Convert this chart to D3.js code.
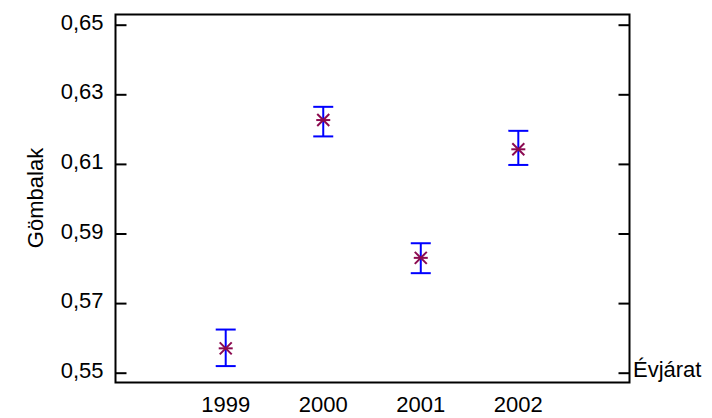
<!DOCTYPE html>
<html lang="hu">
<head>
<meta charset="UTF-8">
<title>Gömbalak</title>
<script src="https://d3js.org/d3.v7.min.js"></script>
<style>
  body { margin: 0; background: #fff; }
  text { font-family: "Liberation Sans", Arial, sans-serif; }
</style>
</head>
<body>
<div id="chart"></div>
<script>
// data
const years = [1999, 2000, 2001, 2002];
const means = [0.5570, 0.6226, 0.5830, 0.6142];
const upper = [0.5624, 0.6264, 0.5872, 0.6195];
const lower = [0.5519, 0.6179, 0.5786, 0.6097];
const yTicks = [0.55, 0.57, 0.59, 0.61, 0.63, 0.65];

const W = 712, H = 418;
const box = {left: 115.5, right: 629.5, top: 14.5, bottom: 382.5};
const fs = 22;

const svg = d3.select("#chart").append("svg")
  .attr("width", W).attr("height", H);

const x = d3.scaleLinear().domain([1997.87, 2003.14]).range([box.left, box.right]);
const y = d3.scaleLinear().domain([0.55, 0.65]).range([372.7, 24.7]);

const fmt = d => d3.format(".2f")(d).replace(".", ",");

// frame
svg.append("rect")
  .attr("x", box.left).attr("y", box.top)
  .attr("width", box.right - box.left).attr("height", box.bottom - box.top)
  .attr("fill", "none").attr("stroke", "#000").attr("stroke-width", 2);

// left axis, ticks pointing in
svg.append("g")
  .attr("transform", `translate(${box.left},0)`)
  .call(d3.axisRight(y).tickValues(yTicks).tickSize(11).tickFormat(""))
  .call(g => g.select(".domain").remove())
  .call(g => g.selectAll("line").attr("stroke-width", 2));

// right axis ticks, pointing in
svg.append("g")
  .attr("transform", `translate(${box.right},0)`)
  .call(d3.axisLeft(y).tickValues(yTicks).tickSize(11).tickFormat(""))
  .call(g => g.select(".domain").remove())
  .call(g => g.selectAll("line").attr("stroke-width", 2));

// y tick labels
svg.append("g").selectAll("text")
  .data(yTicks).join("text")
  .attr("x", 103.5).attr("y", d => y(d) + 5)
  .attr("text-anchor", "end")
  .attr("font-size", fs)
  .text(fmt);

// x labels
svg.append("g").selectAll("text")
  .data(years).join("text")
  .attr("x", d => x(d)).attr("y", 412)
  .attr("text-anchor", "middle")
  .attr("font-size", fs)
  .text(d => d);

// axis titles
svg.append("text")
  .attr("transform", `translate(43,198) rotate(-90)`)
  .attr("text-anchor", "middle")
  .attr("font-size", fs)
  .text("Gömbalak");

svg.append("text")
  .attr("x", 633).attr("y", 377)
  .attr("font-size", fs)
  .text("Évjárat");

// error bars
const eb = svg.append("g").attr("stroke", "#0000ff").attr("stroke-width", 2);
years.forEach((yr, i) => {
  const cx = x(yr);
  eb.append("line").attr("x1", cx).attr("x2", cx).attr("y1", y(upper[i])).attr("y2", y(lower[i]));
  eb.append("line").attr("x1", cx - 10).attr("x2", cx + 10).attr("y1", y(upper[i])).attr("y2", y(upper[i]));
  eb.append("line").attr("x1", cx - 10).attr("x2", cx + 10).attr("y1", y(lower[i])).attr("y2", y(lower[i]));
});

// asterisk markers
const star = svg.append("g").attr("stroke", "#8b0a50").attr("stroke-width", 2);
years.forEach((yr, i) => {
  const cx = x(yr), cy = y(means[i]);
  star.append("line").attr("x1", cx - 7).attr("x2", cx + 7).attr("y1", cy).attr("y2", cy);
  star.append("line").attr("x1", cx - 6).attr("x2", cx + 6).attr("y1", cy - 6).attr("y2", cy + 6);
  star.append("line").attr("x1", cx - 6).attr("x2", cx + 6).attr("y1", cy + 6).attr("y2", cy - 6);
});
</script>
</body>
</html>
